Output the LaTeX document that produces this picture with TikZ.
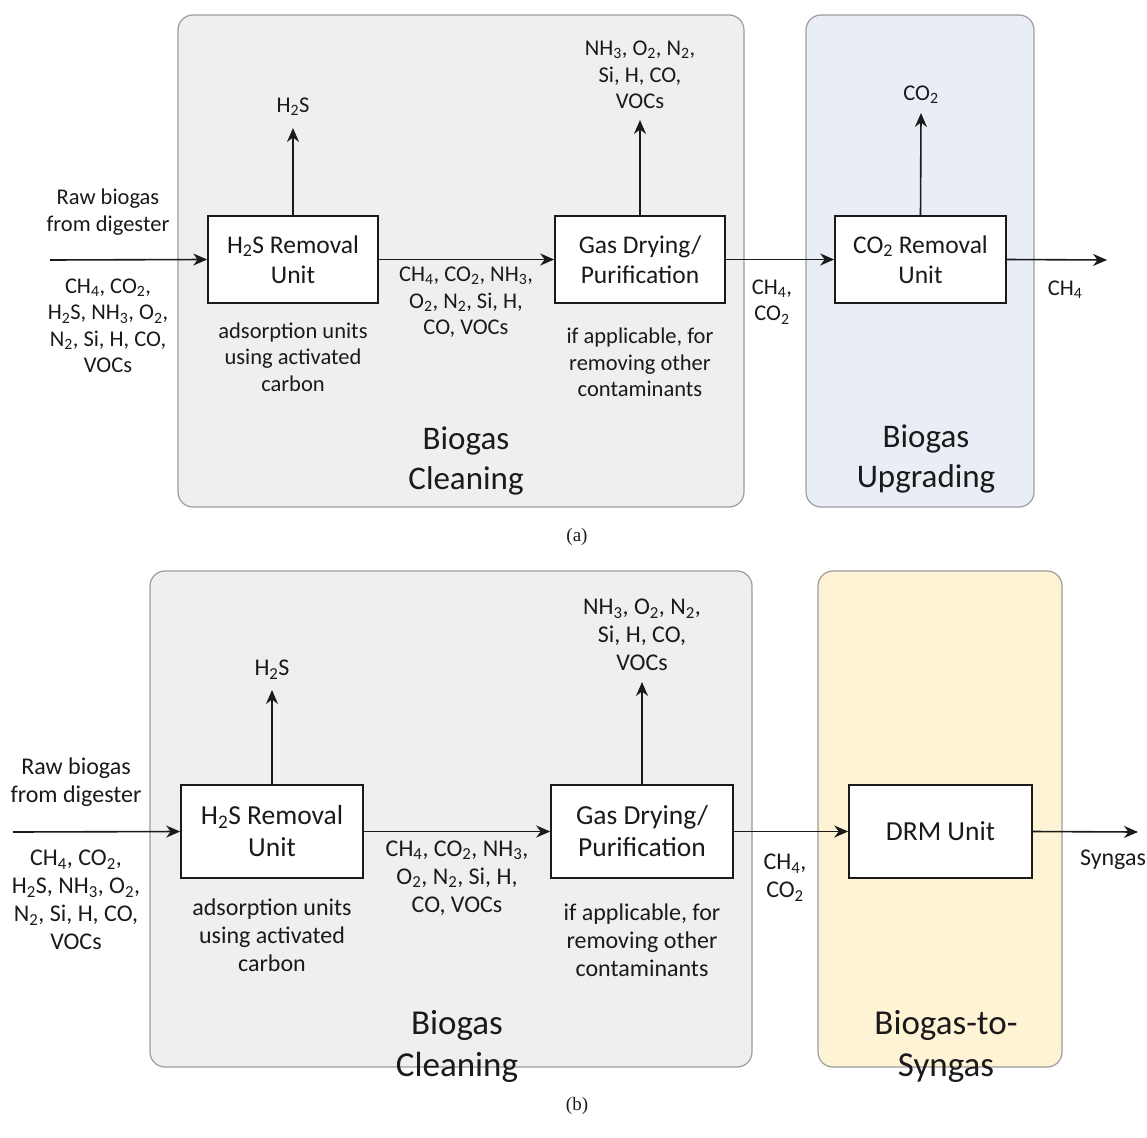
\documentclass[tikz,border=0pt]{standalone}
\usepackage{fontspec}
\setmainfont{Carlito}
\newfontfamily\capfont{Liberation Serif}
\usetikzlibrary{arrows.meta}
\newcommand{\sbs}[1]{\textsubscript{#1}}
\definecolor{panelgray}{HTML}{EFEFEF}
\definecolor{panelblue}{HTML}{E9EEF6}
\definecolor{panelyellow}{HTML}{FFF3D6}
\definecolor{panelborder}{HTML}{9C9C9C}
\definecolor{ink}{HTML}{1A1A1A}
\tikzset{
  panel/.style={draw=panelborder, line width=1.2pt, rounded corners=15pt, inner sep=0pt},
  unitbox/.style={draw=ink, fill=white, line width=1.6pt, align=center, inner sep=0pt, text=ink},
  lbl/.style={align=center, text=ink, inner sep=0pt},
  flow/.style={draw=ink, line width=1.6pt, -{Stealth[length=14pt,width=12pt,inset=4.5pt]}},
}
\begin{document}
\begin{tikzpicture}[x=1pt,y=-1pt]
\useasboundingbox (0,0) rectangle (1147,1137);
% ================= panel (a) =================
\node[panel, fill=panelgray, minimum width=566pt, minimum height=492pt] (cleanA) at (461,261) {};
\node[panel, fill=panelblue, minimum width=228pt, minimum height=492pt] (upgA) at (920,261) {};
\begin{scope}[every node/.append style={font=\fontsize{25.5}{30}\selectfont}]
\node[unitbox, minimum width=170pt, minimum height=87pt] (h2sA) at (293,259.5) {H\sbs{2}S Removal\\Unit};
\node[unitbox, minimum width=170pt, minimum height=87pt] (dryA) at (640,259.5) {Gas Drying/\\Purification};
\node[unitbox, minimum width=171pt, minimum height=87pt] (co2A) at (920.5,259.5) {CO\sbs{2} Removal\\Unit};
\end{scope}
\coordinate (inA) at (50,260);
\coordinate (outA) at (1107,260);
\coordinate (h2sUpA) at (293,128);
\coordinate (dryUpA) at (640,120);
\coordinate (co2UpA) at (921,113);
\draw[flow] (inA) -- (h2sA.west);
\draw[flow] (h2sA.east) -- (dryA.west);
\draw[flow] (dryA.east) -- (co2A.west);
\draw[flow] (co2A.east) -- (outA);
\draw[flow] (h2sA.north) -- (h2sUpA);
\draw[flow] (dryA.north) -- (dryUpA);
\draw[flow] (co2A.north) -- (co2UpA);
\begin{scope}[every node/.append style={font=\fontsize{22.5}{26.5}\selectfont}]
\node[lbl] (rawA) at (108,212) {Raw biogas\\from digester};
\node[lbl] (feedA) at (108,326) {CH\sbs{4}, CO\sbs{2},\\H\sbs{2}S, NH\sbs{3}, O\sbs{2},\\N\sbs{2}, Si, H, CO,\\VOCs};
\node[lbl] (midA) at (466,302.5) {CH\sbs{4}, CO\sbs{2}, NH\sbs{3},\\O\sbs{2}, N\sbs{2}, Si, H,\\CO, VOCs};
\node[lbl] (adsA) at (293,357) {adsorption units\\using activated\\carbon};
\node[lbl] (ifA) at (640,362.5) {if applicable, for\\removing other\\contaminants};
\node[lbl] (cc2A) at (772,302) {CH\sbs{4},\\CO\sbs{2}};
\node[lbl] (ch4A) at (1065,290) {CH\sbs{4}};
\node[lbl] (h2sOA) at (293,107) {H\sbs{2}S};
\node[lbl] (othA) at (640,75) {NH\sbs{3}, O\sbs{2}, N\sbs{2},\\Si, H, CO,\\VOCs};
\node[lbl] (co2OA) at (921,95) {CO\sbs{2}};
\end{scope}
\begin{scope}[every node/.append style={font=\fontsize{33}{40}\selectfont}]
\node[lbl] (bcA) at (466,461) {Biogas\\Cleaning};
\node[lbl] (buA) at (926,459) {Biogas\\Upgrading};
\end{scope}
\node[lbl, font=\capfont\fontsize{19}{20}\selectfont] (capA) at (577,537) {(a)};
% ================= panel (b) =================
\node[panel, fill=panelgray, minimum width=602pt, minimum height=496pt] (cleanB) at (451,819) {};
\node[panel, fill=panelyellow, minimum width=244pt, minimum height=496pt] (synB) at (940,819) {};
\begin{scope}[every node/.append style={font=\fontsize{27.5}{32}\selectfont}]
\node[unitbox, minimum width=182pt, minimum height=93pt] (h2sB) at (272,831.5) {H\sbs{2}S Removal\\Unit};
\node[unitbox, minimum width=182pt, minimum height=93pt] (dryB) at (642,831.5) {Gas Drying/\\Purification};
\node[unitbox, minimum width=183pt, minimum height=93pt] (drmB) at (940.5,831.5) {DRM Unit};
\end{scope}
\coordinate (inB) at (13,832);
\coordinate (outB) at (1138,832);
\coordinate (h2sUpB) at (272,690);
\coordinate (dryUpB) at (642,682);
\draw[flow] (inB) -- (h2sB.west);
\draw[flow] (h2sB.east) -- (dryB.west);
\draw[flow] (dryB.east) -- (drmB.west);
\draw[flow] (drmB.east) -- (outB);
\draw[flow] (h2sB.north) -- (h2sUpB);
\draw[flow] (dryB.north) -- (dryUpB);
\begin{scope}[every node/.append style={font=\fontsize{24}{28}\selectfont}]
\node[lbl] (rawB) at (76,782) {Raw biogas\\from digester};
\node[lbl] (feedB) at (76,900) {CH\sbs{4}, CO\sbs{2},\\H\sbs{2}S, NH\sbs{3}, O\sbs{2},\\N\sbs{2}, Si, H, CO,\\VOCs};
\node[lbl] (midB) at (457,878) {CH\sbs{4}, CO\sbs{2}, NH\sbs{3},\\O\sbs{2}, N\sbs{2}, Si, H,\\CO, VOCs};
\node[lbl] (adsB) at (272,935.5) {adsorption units\\using activated\\carbon};
\node[lbl] (ifB) at (642,940.5) {if applicable, for\\removing other\\contaminants};
\node[lbl] (cc2B) at (785,877.5) {CH\sbs{4},\\CO\sbs{2}};
\node[lbl] (sgB) at (1113,860) {Syngas};
\node[lbl] (h2sOB) at (272,670) {H\sbs{2}S};
\node[lbl] (othB) at (642,635) {NH\sbs{3}, O\sbs{2}, N\sbs{2},\\Si, H, CO,\\VOCs};
\end{scope}
\begin{scope}[every node/.append style={font=\fontsize{35}{42}\selectfont}]
\node[lbl] (bcB) at (457,1046) {Biogas\\Cleaning};
\node[lbl] (bsB) at (946,1046) {Biogas-to-\\Syngas};
\end{scope}
\node[lbl, font=\capfont\fontsize{19}{20}\selectfont] (capB) at (577,1106) {(b)};
\end{tikzpicture}
\end{document}
